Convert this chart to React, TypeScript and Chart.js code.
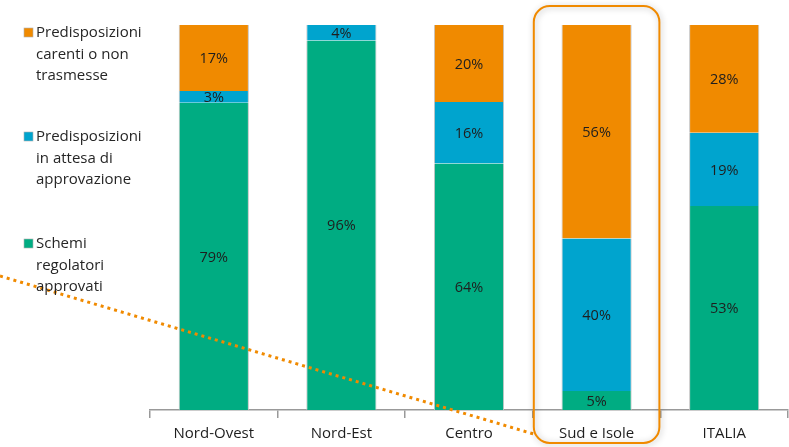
import React, { useEffect, useRef } from "react";
import { Chart, registerables } from "chart.js";

Chart.register(...registerables);

const regions = ["Nord-Ovest", "Nord-Est", "Centro", "Sud e Isole", "ITALIA"];
const approvati = [79, 96, 64, 5, 53];
const inAttesa = [3, 4, 16, 40, 19];
const carenti = [17, 0, 20, 56, 28];

const seriesNames = [
  ["Schemi", "regolatori", "approvati"],
  ["Predisposizioni", "in attesa di", "approvazione"],
  ["Predisposizioni", "carenti o non", "trasmesse"],
];
const seriesColors = ["#00AC82", "#00A4CE", "#F08A00"];
const highlighted = "Sud e Isole";

const FONT = "'Open Sans', 'Noto Sans', sans-serif";

// 100% stacked: each column is scaled to its own total
const totals = regions.map((_, i) => approvati[i] + inAttesa[i] + carenti[i]);
const share = (arr: number[]) => arr.map((v, i) => (v / totals[i]) * 100);

const overlayPlugin = {
  id: "overlay",
  afterDatasetsDraw(chart: any) {
    const ctx = chart.ctx as CanvasRenderingContext2D;
    const x = chart.scales.x;
    const idx = regions.indexOf(highlighted);
    const cx = x.getPixelForValue(idx);
    const half = (x.getPixelForValue(1) - x.getPixelForValue(0)) / 2;
    const left = cx - half + 1;
    const right = cx + half - 1;
    const top = 6;
    const bottom = 443;
    const r = 16;

    // dotted pointer line running to the highlighted box
    ctx.save();
    ctx.strokeStyle = "#F08A00";
    ctx.lineWidth = 3;
    ctx.setLineDash([3, 4]);
    ctx.beginPath();
    ctx.moveTo(0, 276);
    ctx.lineTo(left, 434);
    ctx.stroke();
    ctx.restore();

    // rounded highlight frame with soft shadow
    ctx.save();
    ctx.strokeStyle = "#F08A00";
    ctx.lineWidth = 2;
    ctx.shadowColor = "rgba(0,0,0,0.28)";
    ctx.shadowBlur = 6;
    ctx.shadowOffsetX = 1;
    ctx.shadowOffsetY = 1;
    ctx.beginPath();
    ctx.roundRect(left, top, right - left, bottom - top, r);
    ctx.stroke();
    ctx.restore();

    // value labels centred in each segment
    ctx.save();
    ctx.font = `14.5px ${FONT}`;
    ctx.fillStyle = "#1e1e1e";
    ctx.textAlign = "center";
    ctx.textBaseline = "middle";
    const raw = [approvati, inAttesa, carenti];
    chart.data.datasets.forEach((_: any, di: number) => {
      const meta = chart.getDatasetMeta(di);
      meta.data.forEach((bar: any, i: number) => {
        const v = raw[di][i];
        if (!v) return;
        const y = (bar.y + bar.base) / 2;
        ctx.fillText(`${v}%`, bar.x, y + 1);
      });
    });
    ctx.restore();

    // legend on the left, top to bottom: carenti, in attesa, approvati
    ctx.save();
    ctx.font = `15px ${FONT}`;
    ctx.textBaseline = "middle";
    const blocks = [
      { s: 2, y: 33 },
      { s: 1, y: 137 },
      { s: 0, y: 244 },
    ];
    blocks.forEach(({ s, y }) => {
      ctx.fillStyle = seriesColors[s];
      ctx.fillRect(24, y - 5, 9, 9);
      ctx.strokeStyle = "#b0b0b0";
      ctx.lineWidth = 0.6;
      ctx.strokeRect(24, y - 5, 9, 9);
      ctx.fillStyle = "#262626";
      seriesNames[s].forEach((line, li) => {
        ctx.fillText(line, 36, y + li * 21.5);
      });
    });
    ctx.restore();
  },
};

export default function App() {
  const ref = useRef<HTMLCanvasElement>(null);

  useEffect(() => {
    if (!ref.current) return;
    const mk = (label: string, data: number[], color: string) => ({
      label,
      data,
      backgroundColor: color,
      borderColor: "#c4c4c4",
      borderWidth: { left: 1, right: 1, top: 0, bottom: 0 },
      borderSkipped: false,
      categoryPercentage: 1,
      barPercentage: 0.55,
    });
    const chart = new Chart(ref.current, {
      type: "bar",
      data: {
        labels: regions,
        datasets: [
          mk(seriesNames[0].join(" "), share(approvati), seriesColors[0]),
          mk(seriesNames[1].join(" "), share(inAttesa), seriesColors[1]),
          mk(seriesNames[2].join(" "), share(carenti), seriesColors[2]),
        ],
      },
      options: {
        animation: false,
        responsive: false,
        maintainAspectRatio: false,
        layout: { padding: { left: 150, right: 1, top: 25, bottom: 4 } },
        plugins: {
          legend: { display: false },
          tooltip: { enabled: false },
        },
        scales: {
          x: {
            stacked: true,
            offset: true,
            grid: {
              offset: true,
              drawOnChartArea: false,
              drawTicks: true,
              tickLength: 8,
              color: "#999999",
              lineWidth: 1.5,
            },
            border: { display: true, color: "#999999", width: 1.5 },
            ticks: {
              color: "#1e1e1e",
              font: { family: FONT, size: 15 },
              padding: 7,
              maxRotation: 0,
            },
          },
          y: {
            stacked: true,
            min: 0,
            max: 100,
            display: false,
          },
        },
      },
      plugins: [overlayPlugin],
    });
    return () => chart.destroy();
  }, []);

  return (
    <div
      style={{
        position: "fixed",
        left: 0,
        top: 0,
        width: 789,
        height: 447,
        overflow: "hidden",
        background: "#fff",
      }}
    >
      <canvas ref={ref} width={789} height={454} style={{ display: "block" }} />
    </div>
  );
}
